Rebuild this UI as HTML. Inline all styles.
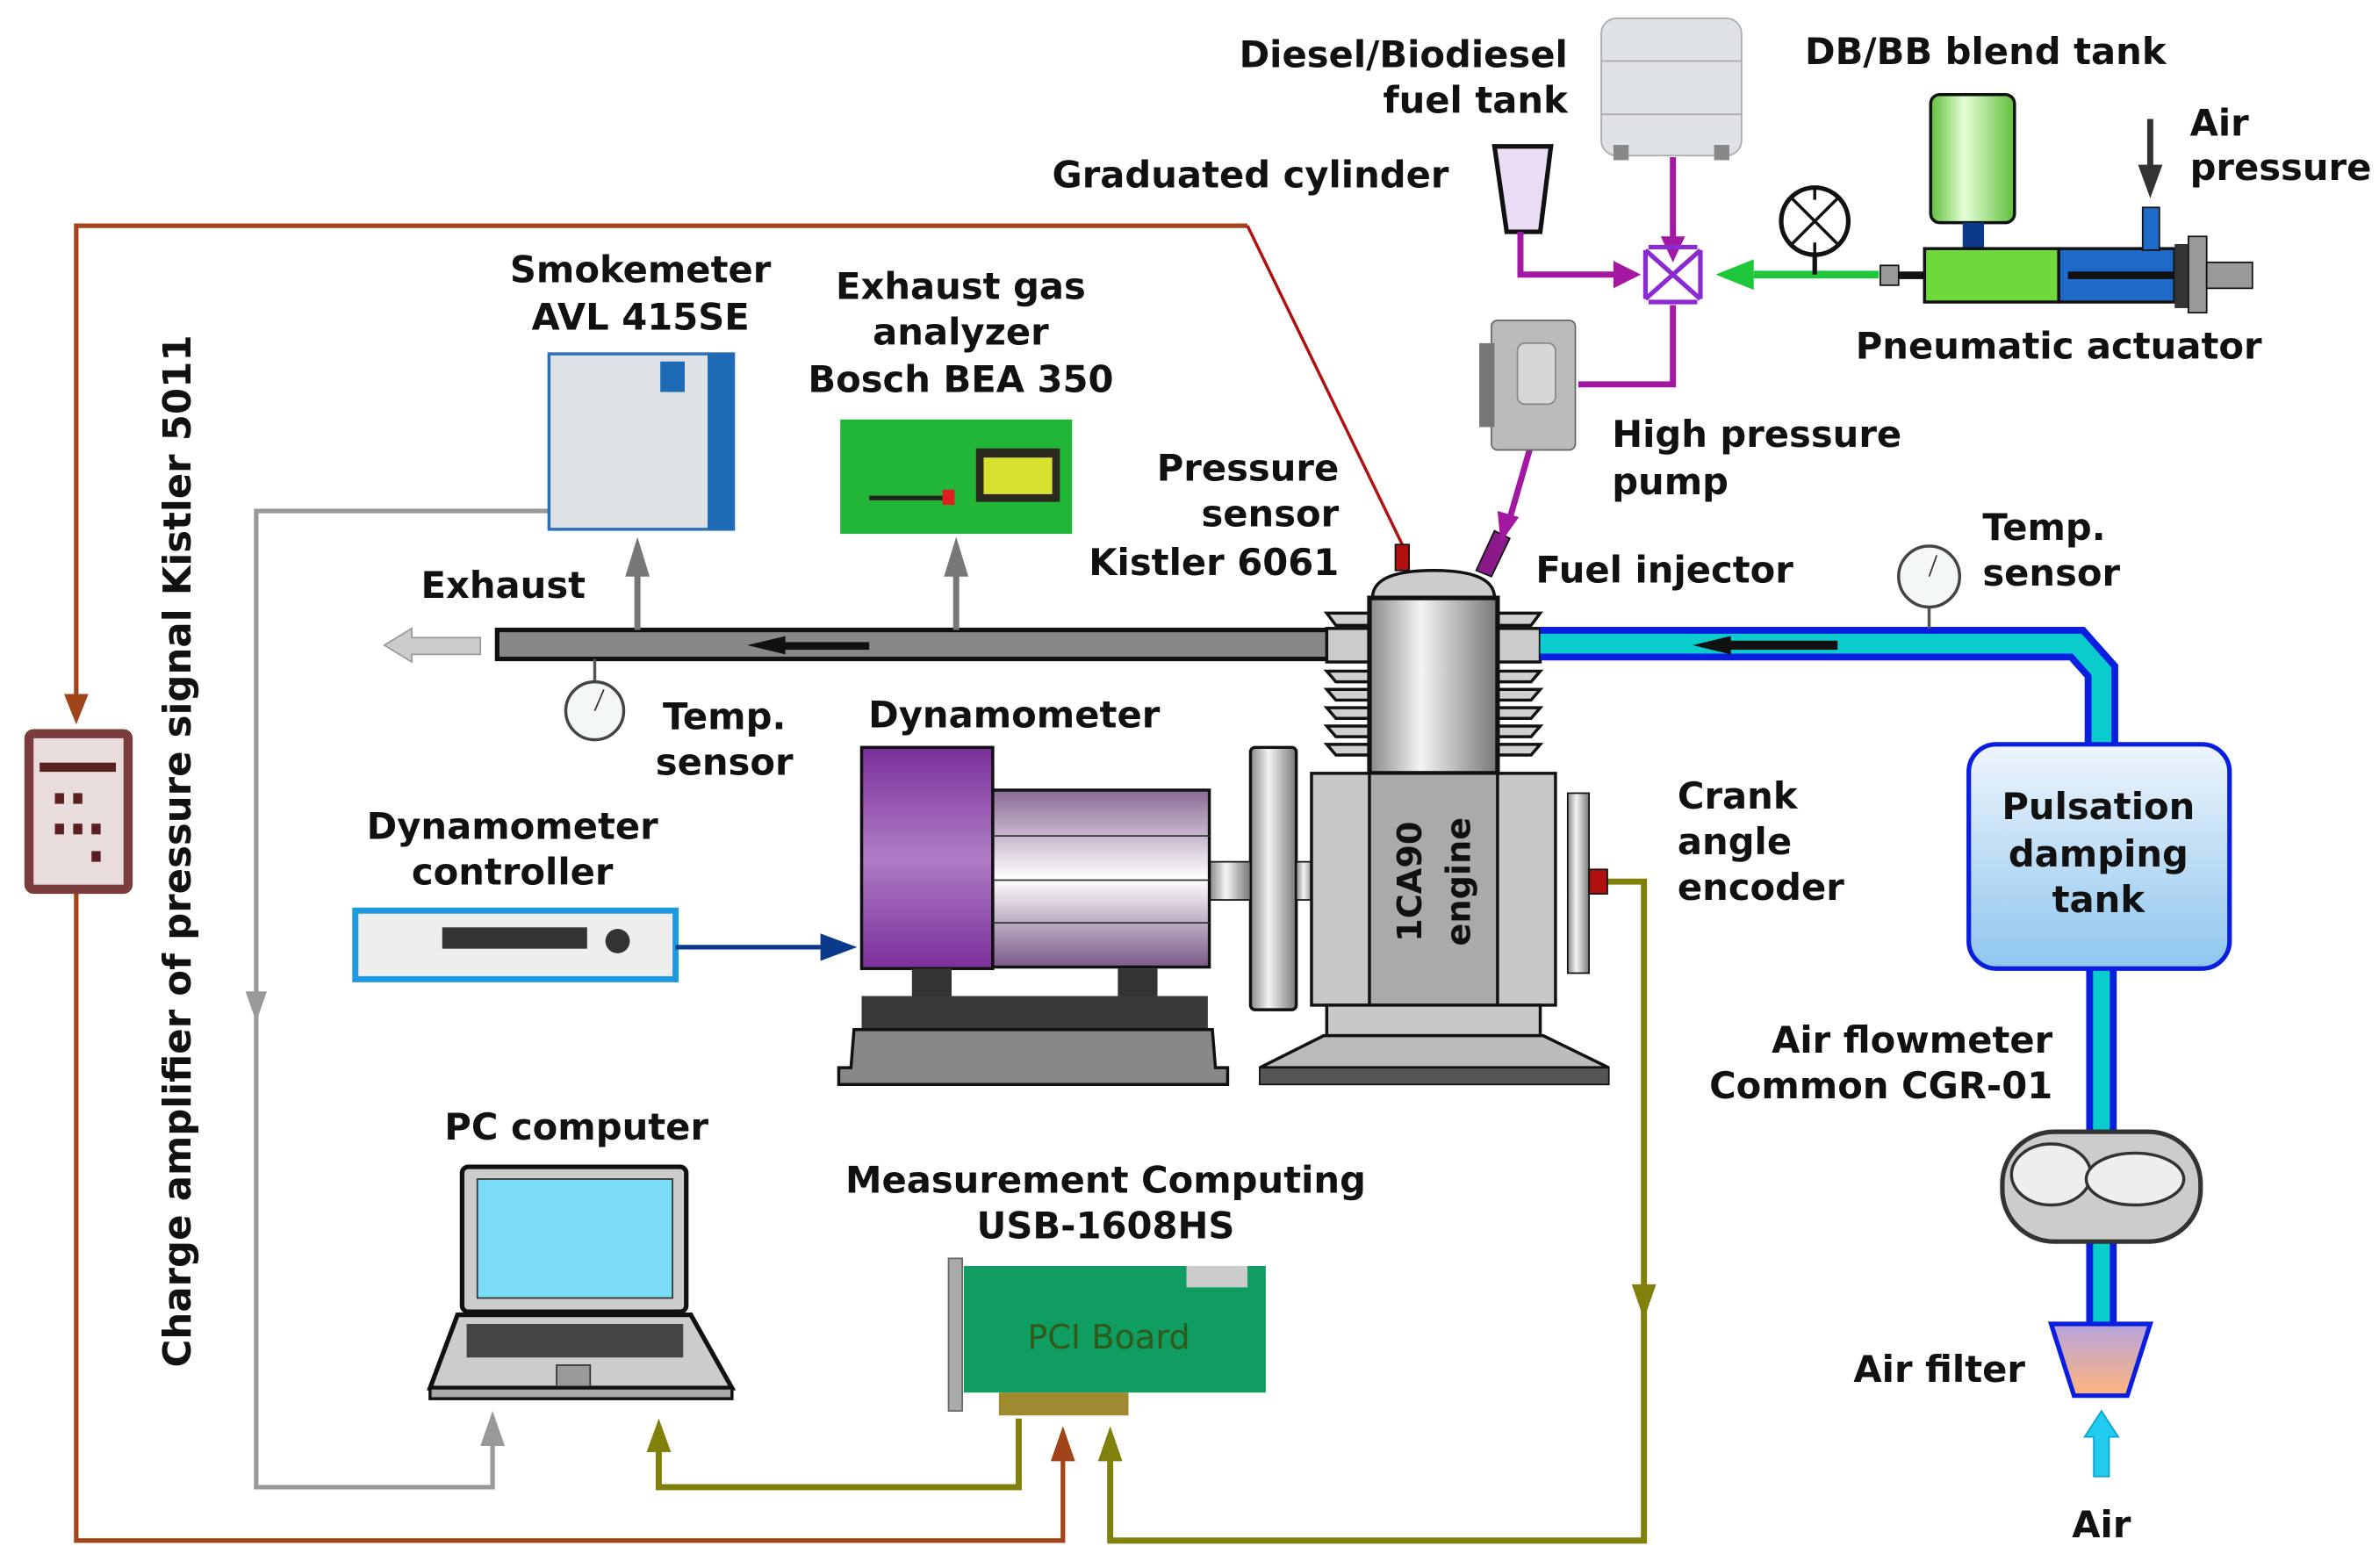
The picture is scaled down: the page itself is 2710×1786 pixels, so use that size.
<!DOCTYPE html>
<html><head><meta charset="utf-8"><style>
html,body{margin:0;padding:0;background:#fff;width:2710px;height:1786px;overflow:hidden}
svg{display:block}
text{font-family:"DejaVu Sans","Liberation Sans",sans-serif;font-weight:bold;font-size:24px;fill:#111}
</style></head><body>
<svg width="2710" height="1786" viewBox="0 0 1560 1028" preserveAspectRatio="none" xmlns="http://www.w3.org/2000/svg">
<defs>
<linearGradient id="cyl" x1="0" x2="1"><stop offset="0" stop-color="#888"/><stop offset=".4" stop-color="#f4f4f4"/><stop offset="1" stop-color="#777"/></linearGradient>
<linearGradient id="purp" x1="0" y1="0" x2="0" y2="1"><stop offset="0" stop-color="#7a2f9a"/><stop offset=".5" stop-color="#b07cc6"/><stop offset="1" stop-color="#7a2f9a"/></linearGradient>
<linearGradient id="body" x1="0" y1="0" x2="0" y2="1"><stop offset="0" stop-color="#8a6a96"/><stop offset=".5" stop-color="#fff"/><stop offset="1" stop-color="#7b5a88"/></linearGradient>
<linearGradient id="tank" x1="0" y1="0" x2="0" y2="1"><stop offset="0" stop-color="#eef5fc"/><stop offset="1" stop-color="#8fc6ee"/></linearGradient>
<linearGradient id="gt" x1="0" x2="1"><stop offset="0" stop-color="#5fbf3a"/><stop offset=".4" stop-color="#e8ffd8"/><stop offset="1" stop-color="#5fbf3a"/></linearGradient>
<linearGradient id="filt" x1="0" y1="0" x2="0" y2="1"><stop offset="0" stop-color="#b6a4e0"/><stop offset="1" stop-color="#ffb47a"/></linearGradient>
</defs>

<!-- brown wire -->
<polyline points="50,470 50,148 818,148" fill="none" stroke="#a2441a" stroke-width="3"/>
<polygon points="42,455 58,455 50,475" fill="#a2441a"/>
<polyline points="818,148 920,358" fill="none" stroke="#b01010" stroke-width="2"/>
<polyline points="50,585 50,1010 697,1010 697,955" fill="none" stroke="#a2441a" stroke-width="3"/>
<polygon points="689,958 705,958 697,935" fill="#a2441a"/>
<!-- amplifier -->
<rect x="16" y="478" width="71" height="108" rx="6" fill="#7a3c3c"/>
<rect x="22" y="484" width="59" height="96" fill="#e8dcdc"/>
<g fill="#5a2020"><rect x="36" y="520" width="6" height="7"/><rect x="48" y="520" width="6" height="7"/><rect x="36" y="540" width="6" height="7"/><rect x="48" y="540" width="6" height="7"/><rect x="60" y="540" width="6" height="7"/><rect x="60" y="558" width="6" height="7"/><rect x="26" y="500" width="50" height="6"/></g>

<!-- gray wire -->
<polyline points="360,335 168,335 168,975 323,975 323,945" fill="none" stroke="#999" stroke-width="3"/>
<polygon points="161,650 175,650 168,670" fill="#999"/>
<polygon points="315,948 331,948 323,925" fill="#999"/>

<!-- olive wires -->
<polyline points="668,930 668,975 432,975 432,950" fill="none" stroke="#80800a" stroke-width="4"/>
<polygon points="424,952 440,952 432,930" fill="#80800a"/>
<polyline points="1050,578 1078,578 1078,1010 728,1010 728,955" fill="none" stroke="#80800a" stroke-width="4"/>
<polygon points="720,958 736,958 728,935" fill="#80800a"/>
<polygon points="1070,842 1086,842 1078,865" fill="#80800a"/>

<!-- exhaust pipe -->
<rect x="326" y="413" width="545" height="19" fill="#888" stroke="#111" stroke-width="3"/>
<polygon points="490,423 515,417 515,421 570,421 570,426 515,426 515,429" fill="#111"/>
<polygon points="252,423 270,412 270,418 315,418 315,429 270,429 270,434" fill="#ccc" stroke="#999"/>
<line x1="418" y1="413" x2="418" y2="375" stroke="#777" stroke-width="4"/><polygon points="410,378 426,378 418,352" fill="#777"/>
<line x1="627" y1="413" x2="627" y2="375" stroke="#777" stroke-width="4"/><polygon points="619,378 635,378 627,352" fill="#777"/>
<line x1="390" y1="432" x2="390" y2="448" stroke="#555" stroke-width="2"/>
<circle cx="390" cy="466" r="19" fill="#f4f8f4" stroke="#444" stroke-width="2"/><line x1="390" y1="466" x2="396" y2="452" stroke="#333"/>

<!-- smokemeter -->
<rect x="360" y="232" width="121" height="115" fill="#dfe2e6" stroke="#2b6fb5" stroke-width="2"/>
<rect x="464" y="232" width="17" height="115" fill="#1d6ab5"/>
<rect x="433" y="237" width="16" height="20" fill="#1d6ab5"/>
<!-- analyzer -->
<rect x="551" y="275" width="152" height="75" fill="#22b638"/>
<rect x="640" y="294" width="55" height="35" fill="#2a2a20"/><rect x="645" y="300" width="45" height="24" fill="#d8e030"/>
<rect x="570" y="325" width="52" height="3" fill="#222"/><rect x="618" y="321" width="8" height="10" fill="#e02020"/>

<!-- engine -->
<g fill="#d0d0d0" stroke="#111" stroke-width="2">
<path d="M870,402 h140 l-6,8 h-128 z"/>
<path d="M870,440 h140 l-6,7 h-128 z"/><path d="M870,452 h140 l-6,7 h-128 z"/><path d="M870,464 h140 l-6,7 h-128 z"/><path d="M870,476 h140 l-6,7 h-128 z"/><path d="M870,488 h140 l-6,7 h-128 z"/>
</g>
<rect x="870" y="412" width="140" height="22" fill="#ccc" stroke="#111" stroke-width="2"/>
<path d="M900,392 q0,-18 40,-18 q40,0 40,18 z" fill="#ccc" stroke="#111" stroke-width="2"/>
<rect x="898" y="392" width="84" height="115" fill="url(#cyl)" stroke="#111" stroke-width="3"/>
<rect x="915" y="357" width="9" height="17" fill="#b01010" stroke="#111"/>
<polygon points="968,374 980,348 990,353 978,378" fill="#8a1a8a" stroke="#111"/>
<rect x="820" y="490" width="30" height="172" rx="3" fill="url(#cyl)" stroke="#111" stroke-width="2"/>
<rect x="793" y="565" width="27" height="25" fill="url(#cyl)" stroke="#111"/>
<rect x="850" y="565" width="12" height="25" fill="url(#cyl)" stroke="#111"/>
<rect x="860" y="507" width="160" height="152" fill="#c8c8c8" stroke="#111" stroke-width="2"/>
<rect x="898" y="507" width="84" height="152" fill="#aaa" stroke="#111" stroke-width="2"/>
<rect x="1028" y="520" width="14" height="118" fill="url(#cyl)" stroke="#111"/>
<rect x="1042" y="570" width="12" height="16" fill="#b01010" stroke="#111"/>
<rect x="870" y="659" width="140" height="20" fill="#c8c8c8" stroke="#111" stroke-width="2"/>
<polygon points="868,679 1012,679 1055,700 826,700" fill="#bbb" stroke="#111" stroke-width="2"/>
<rect x="826" y="700" width="229" height="11" fill="#555" stroke="#111"/>
<text transform="translate(932,578) rotate(-90)" text-anchor="middle" style="font-size:22px">1CA90</text>
<text transform="translate(964,578) rotate(-90)" text-anchor="middle" style="font-size:22px">engine</text>

<!-- dynamometer -->
<rect x="565" y="490" width="86" height="145" fill="url(#purp)" stroke="#111" stroke-width="2"/>
<rect x="651" y="518" width="142" height="116" fill="url(#body)" stroke="#111" stroke-width="2"/>
<g stroke="#333"><line x1="651" y1="548" x2="793" y2="548"/><line x1="651" y1="577" x2="793" y2="577"/><line x1="651" y1="605" x2="793" y2="605"/></g>
<rect x="598" y="635" width="26" height="18" fill="#333"/><rect x="733" y="635" width="26" height="18" fill="#333"/>
<rect x="565" y="653" width="227" height="22" fill="#3a3a3a"/>
<path d="M560,675 h235 l2,25 h8 v11 h-255 v-11 h8 z" fill="#888" stroke="#111" stroke-width="2"/>
<!-- controller -->
<rect x="233" y="597" width="210" height="45" fill="#eee" stroke="#1e9ae0" stroke-width="4"/>
<rect x="290" y="608" width="95" height="14" fill="#333"/><circle cx="405" cy="617" r="8" fill="#333"/>
<line x1="443" y1="621" x2="540" y2="621" stroke="#0b3a8a" stroke-width="3"/><polygon points="538,612 562,621 538,630" fill="#0b3a8a"/>

<!-- intake -->
<path d="M1010,422 H1362 L1378,440 V488" fill="none" stroke="#0a1ee0" stroke-width="22"/>
<path d="M1010,422 H1362 L1378,440 V488" fill="none" stroke="#0acccc" stroke-width="13"/>
<polygon points="1110,423 1135,417 1135,420 1205,420 1205,426 1135,426 1135,429" fill="#111"/>
<line x1="1378" y1="635" x2="1378" y2="870" stroke="#0a1ee0" stroke-width="20"/>
<line x1="1378" y1="635" x2="1378" y2="870" stroke="#0acccc" stroke-width="11"/>
<line x1="1265" y1="398" x2="1265" y2="412" stroke="#555" stroke-width="2"/>
<circle cx="1265" cy="378" r="20" fill="#f4f8f4" stroke="#444" stroke-width="2"/><line x1="1265" y1="378" x2="1270" y2="364" stroke="#333"/>
<rect x="1291" y="488" width="171" height="147" rx="18" fill="url(#tank)" stroke="#0a1ee0" stroke-width="3"/>
<text x="1376" y="537" text-anchor="middle">Pulsation</text>
<text x="1376" y="568" text-anchor="middle">damping</text>
<text x="1376" y="598" text-anchor="middle">tank</text>
<rect x="1313" y="742" width="130" height="72" rx="34" fill="#ccc" stroke="#333" stroke-width="3"/>
<ellipse cx="1345" cy="770" rx="26" ry="20" fill="#eee" stroke="#333" stroke-width="2"/><ellipse cx="1400" cy="773" rx="32" ry="17" fill="#eee" stroke="#333" stroke-width="2"/>
<polygon points="1345,868 1410,868 1395,915 1360,915" fill="url(#filt)" stroke="#0a1ee0" stroke-width="3"/>
<polygon points="1378,925 1389,942 1383,942 1383,968 1373,968 1373,942 1367,942" fill="#22ccee" stroke="#0aa0d0"/>

<!-- fuel system -->
<rect x="1050" y="12" width="92" height="90" rx="10" fill="#dfe2e6" stroke="#aaa"/>
<line x1="1050" y1="40" x2="1142" y2="40" stroke="#aaa"/><line x1="1050" y1="75" x2="1142" y2="75" stroke="#aaa"/>
<rect x="1058" y="95" width="10" height="10" fill="#888"/><rect x="1124" y="95" width="10" height="10" fill="#888"/>
<polygon points="980,96 1017,96 1010,152 988,152" fill="#eadcf4" stroke="#111" stroke-width="3"/>
<g fill="none" stroke="#a218a2" stroke-width="4">
<polyline points="1097,103 1097,160"/>
<polyline points="997,152 997,180 1060,180"/>
<polyline points="1097,200 1097,252 1035,252"/>
<polyline points="1003,295 990,340"/>
</g>
<polygon points="1089,155 1105,155 1097,172" fill="#a218a2"/>
<polygon points="1058,171 1076,180 1058,189" fill="#a218a2"/>
<polygon points="982,335 996,339 984,356" fill="#a218a2"/>
<path d="M1079,164 L1115,196 M1115,164 L1079,196 M1079,164 v32 M1115,164 v32 M1081,162 h32 M1081,198 h32" stroke="#8a2ad0" stroke-width="3" fill="none"/>
<line x1="1232" y1="180" x2="1150" y2="180" stroke="#1ec83a" stroke-width="5"/><polygon points="1150,170 1125,180 1150,190" fill="#1ec83a"/>
<line x1="1190" y1="167" x2="1190" y2="180" stroke="#111" stroke-width="3"/>
<circle cx="1190" cy="145" r="22" fill="#fff" stroke="#111" stroke-width="3"/>
<path d="M1175,130 L1205,160 M1205,130 L1175,160 M1190,123 v8 M1190,159 v8" stroke="#111" stroke-width="2"/>
<rect x="978" y="210" width="55" height="85" rx="4" fill="#bbb" stroke="#666"/><rect x="970" y="225" width="10" height="55" fill="#777"/>
<rect x="995" y="225" width="25" height="40" rx="5" fill="#d6d6d6" stroke="#888"/>
<rect x="1233" y="174" width="12" height="13" fill="#999" stroke="#111"/>
<rect x="1245" y="178" width="18" height="5" fill="#111"/>
<rect x="1266" y="62" width="55" height="84" rx="6" fill="url(#gt)" stroke="#111" stroke-width="2"/>
<rect x="1287" y="146" width="14" height="18" fill="#0b3a8a"/>
<rect x="1262" y="163" width="88" height="35" fill="#6fd83a" stroke="#111" stroke-width="2"/>
<rect x="1350" y="163" width="76" height="35" fill="#1d6ac8" stroke="#111" stroke-width="2"/>
<rect x="1356" y="178" width="70" height="5" fill="#111"/>
<rect x="1405" y="136" width="11" height="28" fill="#1d6ac8" stroke="#111"/>
<rect x="1426" y="160" width="9" height="42" fill="#333"/>
<rect x="1435" y="155" width="12" height="50" fill="#999" stroke="#111"/>
<rect x="1447" y="172" width="30" height="17" fill="#999" stroke="#111"/>
<line x1="1410" y1="78" x2="1410" y2="112" stroke="#333" stroke-width="4"/><polygon points="1402,108 1418,108 1410,130" fill="#333"/>

<!-- laptop -->
<rect x="303" y="765" width="147" height="95" rx="4" fill="#ccc" stroke="#111" stroke-width="3"/>
<rect x="313" y="773" width="128" height="78" fill="#7bdcf8" stroke="#333"/>
<polygon points="300,862 453,862 480,910 282,910" fill="#ccc" stroke="#111" stroke-width="3"/>
<rect x="306" y="868" width="142" height="22" fill="#444"/>
<rect x="365" y="895" width="22" height="14" fill="#999" stroke="#333"/>
<rect x="282" y="910" width="198" height="7" fill="#aaa" stroke="#111" stroke-width="2"/>
<!-- PCI -->
<rect x="622" y="825" width="9" height="100" fill="#aaa" stroke="#666"/>
<rect x="632" y="830" width="198" height="83" fill="#0f9d62"/>
<rect x="778" y="830" width="40" height="14" fill="#ccc"/>
<rect x="655" y="913" width="85" height="15" fill="#a08a30"/>
<text x="727" y="884" text-anchor="middle" style="font-weight:normal;font-size:22px;fill:#2f5a18">PCI Board</text>

<!-- labels -->
<text x="1028" y="44" text-anchor="end">Diesel/Biodiesel</text>
<text x="1028" y="74" text-anchor="end">fuel tank</text>
<text x="1302" y="42" text-anchor="middle">DB/BB blend tank</text>
<text x="1436" y="89">Air</text>
<text x="1436" y="118">pressure</text>
<text x="820" y="123" text-anchor="middle">Graduated cylinder</text>
<text x="1350" y="235" text-anchor="middle">Pneumatic actuator</text>
<text x="1057" y="293">High pressure</text>
<text x="1057" y="324">pump</text>
<text x="878" y="315" text-anchor="end">Pressure</text>
<text x="878" y="345" text-anchor="end">sensor</text>
<text x="878" y="377" text-anchor="end">Kistler 6061</text>
<text x="1007" y="382">Fuel injector</text>
<text x="1300" y="354">Temp.</text>
<text x="1300" y="384">sensor</text>
<text x="420" y="185" text-anchor="middle">Smokemeter</text>
<text x="420" y="216" text-anchor="middle">AVL 415SE</text>
<text x="630" y="196" text-anchor="middle">Exhaust gas</text>
<text x="630" y="226" text-anchor="middle">analyzer</text>
<text x="630" y="257" text-anchor="middle">Bosch BEA 350</text>
<text x="330" y="392" text-anchor="middle">Exhaust</text>
<text x="475" y="478" text-anchor="middle">Temp.</text>
<text x="475" y="508" text-anchor="middle">sensor</text>
<text x="665" y="477" text-anchor="middle">Dynamometer</text>
<text x="336" y="550" text-anchor="middle">Dynamometer</text>
<text x="336" y="580" text-anchor="middle">controller</text>
<text x="1100" y="530">Crank</text>
<text x="1100" y="560">angle</text>
<text x="1100" y="590">encoder</text>
<text x="1346" y="690" text-anchor="end">Air flowmeter</text>
<text x="1346" y="720" text-anchor="end">Common CGR-01</text>
<text x="1328" y="906" text-anchor="end">Air filter</text>
<text x="1378" y="1008" text-anchor="middle">Air</text>
<text x="378" y="747" text-anchor="middle">PC computer</text>
<text x="725" y="782" text-anchor="middle">Measurement Computing</text>
<text x="725" y="812" text-anchor="middle">USB-1608HS</text>
<text transform="translate(125,558) rotate(-90)" text-anchor="middle" style="font-size:25px">Charge amplifier of pressure signal Kistler 5011</text>
</svg>
</body></html>
